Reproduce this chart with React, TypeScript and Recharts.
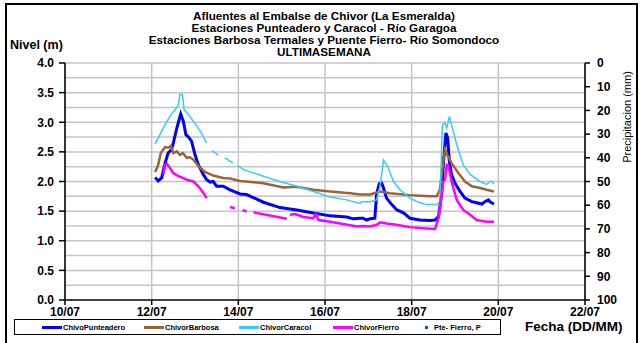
import React from 'react';
import { ComposedChart, Line, XAxis, YAxis, CartesianGrid, ReferenceLine } from 'recharts';

const FONT = '"Liberation Sans", Arial, sans-serif';

// fechas: dias desde 10/07 00:00
const dateTicks = [0, 2, 4, 6, 8, 10, 12];
const dateLabels = ['10/07', '12/07', '14/07', '16/07', '18/07', '20/07', '22/07'];
const nivelTicks = [0, 0.5, 1, 1.5, 2, 2.5, 3, 3.5, 4];
const gridLevels = [0.25, 0.5, 0.75, 1, 1.25, 1.5, 1.75, 2, 2.25, 2.5, 2.75, 3, 3.25, 3.5, 3.75, 4];
const precipTicks = [0, 10, 20, 30, 40, 50, 60, 70, 80, 90, 100];

const titleLines = [
  'Afluentes al Embalse de Chivor (La Esmeralda)',
  'Estaciones Punteadero y Caracol - Río Garagoa',
  'Estaciones Barbosa Termales y Puente Fierro- Río Somondoco',
  'ULTIMASEMANA',
];

const punteaderoT = [2.08, 2.15, 2.23, 2.31, 2.38, 2.46, 2.5, 2.58, 2.67, 2.73, 2.79, 2.85, 2.92, 3.0, 3.08, 3.19, 3.27, 3.35, 3.42, 3.5, 3.65, 3.81, 4.04, 4.19, 4.58, 4.96, 5.35, 5.73, 6.12, 6.5, 6.65, 6.81, 6.88, 6.96, 7.04, 7.15, 7.19, 7.25, 7.31, 7.35, 7.42, 7.54, 7.66, 7.81, 7.96, 8.19, 8.42, 8.54, 8.62, 8.69, 8.73, 8.79, 8.83, 8.87, 8.92, 9.0, 9.12, 9.23, 9.39, 9.5, 9.62, 9.69, 9.77, 9.82, 9.9];
const punteaderoV = [2.07, 2.01, 2.06, 2.31, 2.48, 2.54, 2.65, 2.9, 3.14, 3.02, 2.79, 2.75, 2.68, 2.45, 2.28, 2.12, 2.03, 1.99, 2.0, 1.92, 1.92, 1.86, 1.79, 1.78, 1.65, 1.56, 1.52, 1.47, 1.42, 1.4, 1.37, 1.38, 1.38, 1.35, 1.37, 1.38, 1.78, 1.96, 1.97, 1.89, 1.72, 1.61, 1.52, 1.47, 1.38, 1.35, 1.34, 1.35, 1.41, 1.78, 2.28, 2.82, 2.74, 2.34, 2.12, 1.97, 1.83, 1.72, 1.66, 1.64, 1.62, 1.66, 1.69, 1.65, 1.62];

const barbosaT = [2.08, 2.15, 2.21, 2.31, 2.38, 2.44, 2.5, 2.58, 2.65, 2.72, 2.81, 2.88, 2.96, 3.08, 3.23, 3.42, 3.65, 3.81, 4.04, 4.58, 5.04, 5.35, 5.73, 6.12, 6.58, 6.81, 7.04, 7.27, 7.5, 7.96, 8.42, 8.58, 8.65, 8.73, 8.77, 8.82, 8.92, 9.08, 9.23, 9.39, 9.58, 9.73, 9.9];
const barbosaV = [2.16, 2.28, 2.48, 2.58, 2.57, 2.6, 2.48, 2.51, 2.45, 2.48, 2.4, 2.41, 2.37, 2.26, 2.16, 2.1, 2.06, 2.05, 2.01, 1.97, 1.9, 1.91, 1.86, 1.83, 1.8, 1.78, 1.78, 1.83, 1.8, 1.77, 1.75, 1.75, 1.86, 2.34, 2.54, 2.45, 2.31, 2.14, 2.0, 1.92, 1.89, 1.86, 1.83];

const caracolT = [2.08, 2.19, 2.31, 2.42, 2.54, 2.62, 2.65, 2.71, 2.75, 2.85, 2.96, 3.12, 3.27, 3.33, 3.39, 3.54, 3.61, 3.69, 3.88, 3.94, 3.98, 4.12, 4.58, 4.96, 5.35, 5.73, 6.12, 6.5, 6.81, 6.85, 7.04, 7.19, 7.27, 7.35, 7.44, 7.58, 7.73, 7.96, 8.19, 8.35, 8.58, 8.65, 8.71, 8.77, 8.81, 8.87, 8.92, 9.04, 9.19, 9.35, 9.58, 9.73, 9.81, 9.85, 9.9];
const caracolV = [2.63, 2.79, 2.96, 3.1, 3.21, 3.3, 3.47, 3.47, 3.21, 3.13, 3.02, 2.85, 2.65, null, 2.52, 2.44, null, 2.4, 2.31, null, 2.27, 2.2, 2.09, 2.0, 1.92, 1.83, 1.74, 1.69, 1.63, 1.66, 1.66, 1.69, 1.92, 2.36, 2.26, 2.0, 1.86, 1.72, 1.64, 1.61, 1.61, 1.66, 2.96, 2.99, 2.9, 3.1, 2.96, 2.62, 2.28, 2.12, 2.0, 1.95, 2.0, 2.0, 1.96];

const fierroT = [2.27, 2.31, 2.35, 2.42, 2.5, 2.62, 2.69, 2.81, 2.96, 3.08, 3.19, 3.27, 3.5, 3.81, 3.92, 4.0, 4.1, 4.19, 4.27, 4.35, 5.12, 5.15, 5.19, 5.31, 5.5, 5.73, 5.79, 5.85, 6.12, 6.58, 6.73, 6.88, 7.04, 7.19, 7.27, 7.42, 7.65, 7.81, 7.96, 8.27, 8.54, 8.62, 8.69, 8.73, 8.77, 8.81, 8.85, 8.92, 9.04, 9.19, 9.35, 9.5, 9.73, 9.9];
const fierroV = [2.12, 2.28, 2.3, 2.23, 2.14, 2.09, 2.07, 2.03, 2.0, 1.92, 1.81, 1.72, null, 1.57, 1.55, null, 1.52, 1.49, null, 1.48, 1.37, null, 1.44, 1.45, 1.4, 1.38, 1.45, 1.35, 1.32, 1.26, 1.24, 1.25, 1.24, 1.27, 1.31, 1.29, 1.27, 1.25, 1.23, 1.21, 1.2, 1.38, 1.78, 2.0, 2.03, 2.28, 2.26, 2.0, 1.69, 1.52, 1.44, 1.35, 1.32, 1.32];

const series = [
  { name: 'ChivoPunteadero', t: punteaderoT, v: punteaderoV, color: '#0000ff', width: 3 },
  { name: 'ChivorBarbosa', t: barbosaT, v: barbosaV, color: '#996633', width: 2.5 },
  { name: 'ChivorCaracol', t: caracolT, v: caracolV, color: '#33ccff', width: 1.5 },
  { name: 'ChivorFierro', t: fierroT, v: fierroV, color: '#ff00ff', width: 2.5 },
];

const toPoints = (t: number[], v: (number | null)[]) => t.map((x, i) => ({ t: x, nivel: v[i] }));

const tickStyle = { fontSize: 12, fontWeight: 'bold', fill: '#000', fontFamily: FONT };

const legendItems = [
  { name: 'ChivoPunteadero', color: '#0000ff', x: 27 },
  { name: 'ChivorBarbosa', color: '#996633', x: 129 },
  { name: 'ChivorCaracol', color: '#33ccff', x: 224 },
  { name: 'ChivorFierro', color: '#ff00ff', x: 318 },
];

export default function App() {
  return (
    <div style={{ position: 'absolute', left: 0, top: 0, width: 640, height: 343, background: '#fff', overflow: 'hidden', fontFamily: FONT }}>
      <div style={{ position: 'absolute', left: 5, top: 3, width: 633, height: 360, border: '2px solid #000', boxSizing: 'border-box' }} />
      <div style={{ position: 'absolute', left: 0, top: 10, width: 648, textAlign: 'center', fontSize: 11.7, fontWeight: 'bold', lineHeight: '12px' }}>
        {titleLines.map((l) => <div key={l}>{l}</div>)}
      </div>
      <div style={{ position: 'absolute', left: 10, top: 38, fontSize: 12.5, fontWeight: 'bold' }}>Nivel (m)</div>
      <div style={{ position: 'absolute', left: 577, top: 111, width: 100, textAlign: 'center', fontSize: 11, transform: 'rotate(-90deg)' }}>Precipitacion (mm)</div>
      <ComposedChart width={640} height={343} margin={{ top: 63, right: 0, bottom: 0, left: 0 }} style={{ position: 'absolute', left: 0, top: 0 }}>
        <CartesianGrid horizontal={false} stroke="#c4c4c4" strokeWidth={1.5} />
        <XAxis
          dataKey="t"
          type="number"
          domain={[0, 12]}
          ticks={dateTicks}
          tickFormatter={(v: number) => dateLabels[dateTicks.indexOf(v)]}
          height={43}
          tick={tickStyle}
          tickSize={5}
          tickMargin={2}
          stroke="#000"
          strokeWidth={1.5}
        />
        <YAxis
          yAxisId="left"
          type="number"
          domain={[0, 4]}
          ticks={nivelTicks}
          tickFormatter={(v: number) => v.toFixed(1)}
          width={65}
          tick={tickStyle}
          tickSize={6}
          tickMargin={5}
          stroke="#000"
          strokeWidth={1.5}
        />
        <YAxis
          yAxisId="right"
          type="number"
          orientation="right"
          domain={[0, 100]}
          allowDataOverflow
          reversed
          ticks={precipTicks}
          interval={0}
          width={55}
          tick={tickStyle}
          tickSize={5}
          tickMargin={7}
          stroke="#000"
          strokeWidth={1.5}
        />
        {gridLevels.map((g) => (
          <ReferenceLine key={g} yAxisId="left" y={g} stroke="#c4c4c4" strokeWidth={1.5} />
        ))}
        {series.map((s) => (
          <Line
            key={s.name}
            yAxisId="left"
            data={toPoints(s.t, s.v)}
            dataKey="nivel"
            name={s.name}
            type="linear"
            stroke={s.color}
            strokeWidth={s.width}
            dot={false}
            connectNulls={false}
            isAnimationActive={false}
          />
        ))}
      </ComposedChart>
      <div style={{ position: 'absolute', left: 14, top: 319, width: 487, height: 16, border: '1px solid #000', boxSizing: 'border-box', fontSize: 7.5, fontWeight: 'bold' }}>
        {legendItems.map((it) => (
          <div key={it.name} style={{ position: 'absolute', left: it.x, top: 3, display: 'flex', alignItems: 'center', whiteSpace: 'nowrap' }}>
            <span style={{ display: 'inline-block', width: 20, height: 3, background: it.color, marginRight: 1 }} />
            <span>{it.name}</span>
          </div>
        ))}
        <div style={{ position: 'absolute', left: 410, top: 3, display: 'flex', alignItems: 'center', whiteSpace: 'nowrap' }}>
          <span style={{ display: 'inline-block', width: 3, height: 3, background: '#008000', marginRight: 6 }} />
          <span>Pte- Fierro, P</span>
        </div>
      </div>
      <div style={{ position: 'absolute', left: 525, top: 319, fontSize: 13.5, fontWeight: 'bold' }}>Fecha (DD/MM)</div>
    </div>
  );
}
